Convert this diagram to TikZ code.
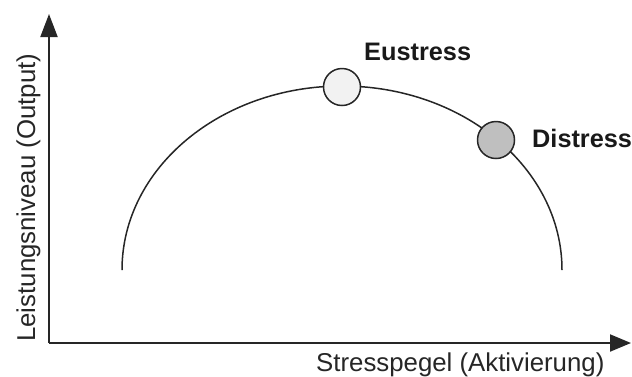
\documentclass[tikz,border=0pt]{standalone}
\usepackage{fontspec}
\setmainfont{Liberation Sans}
\usetikzlibrary{arrows.meta}
\begin{document}
\begin{tikzpicture}[x=1pt,y=-1pt,
  axis/.style={draw=black!85,line width=2pt},
  lbl/.style={inner sep=0pt,font=\fontsize{25.8}{26}\selectfont,text=black!85},
  blbl/.style={inner sep=0pt,font=\fontsize{25.3}{26}\selectfont\bfseries,text=black!90},
  dot/.style={circle,draw=black!85,line width=1.5pt,minimum size=37pt,inner sep=0pt}]
\useasboundingbox (0,0) rectangle (632,376);
\coordinate (o) at (49,343);
\coordinate (ytip) at (49,14);
\coordinate (xtip) at (631,343);
\draw[axis,-{Triangle[length=23pt,width=17pt]}] (o) -- (ytip);
\draw[axis,-{Triangle[length=21pt,width=17pt]}] (o) -- (xtip);
\coordinate (cl) at (122,270);
\draw[black!85,line width=1.5pt] (cl) arc[start angle=180,end angle=0,x radius=220,y radius=-184];
\node[dot,fill=black!5] (eu) at (342,87) {};
\node[dot,fill=black!25] (di) at (496,140) {};
\node[blbl,anchor=base west] (eul) at (364,60) {Eustress};
\node[blbl,anchor=base west] (dil) at (532,147) {Distress};
\node[lbl,anchor=base west] (xl) at (316,371) {Stresspegel (Aktivierung)};
\node[lbl,anchor=base west,rotate=90] (yl) at (35,342) {Leistungsniveau (Output)};
\end{tikzpicture}
\end{document}
